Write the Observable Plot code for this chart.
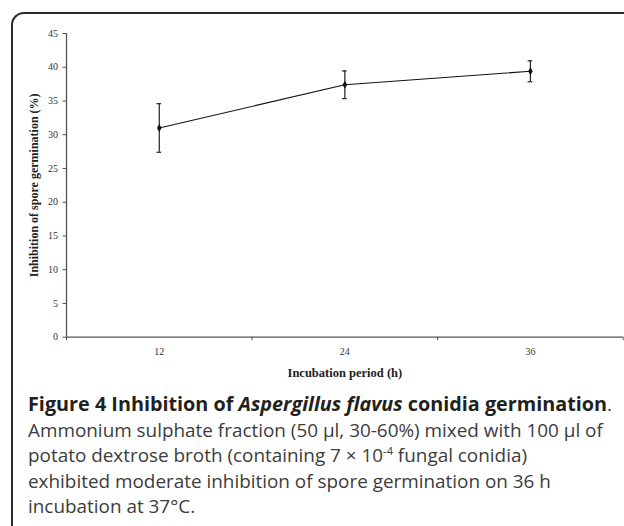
<!DOCTYPE html>
<html>
<head>
<meta charset="utf-8">
<script src="https://cdn.jsdelivr.net/npm/d3@7"></script>
<script src="https://cdn.jsdelivr.net/npm/@observablehq/plot@0.6"></script>
<style>
  html, body { margin: 0; padding: 0; background: #fff; overflow: hidden; }
  #wrap { position: relative; width: 624px; height: 526px; overflow: hidden; }
  #frame { position: absolute; left: 11px; top: 12px; width: 700px; height: 600px;
           border-left: 2px solid #2a2a2a; border-top: 2px solid #2a2a2a; border-top-left-radius: 13px; }
  #chart { position: absolute; left: 0; top: 0; }
  #caption { position: absolute; left: 28px; top: 391px; white-space: nowrap;
             font-family: "Open Sans", sans-serif; font-size: 18.9px; line-height: 25.5px; color: #3c3c3c; }
  #caption b { color: #231f20; font-size: 19.8px; }
  #caption sup { font-size: 11px; vertical-align: 7px; line-height: 0; }
</style>
</head>
<body>
<div id="wrap">
  <div id="frame"></div>
  <div id="chart"></div>
  <div id="caption"><b>Figure 4 Inhibition of <i>Aspergillus flavus</i> conidia germination</b>.<br>Ammonium sulphate fraction (50 µl, 30-60%) mixed with 100 µl of<br>potato dextrose broth (containing 7 × 10<sup>-4</sup> fungal conidia)<br>exhibited moderate inhibition of spore germination on 36 h<br>incubation at 37°C.</div>
</div>
<script>
const hours = [12, 24, 36];
const inhibition = [31.0, 37.4, 39.4];
const errorSD = [3.6, 2.05, 1.55];
const yTicks = [0, 5, 10, 15, 20, 25, 30, 35, 40, 45];
const xLabels = [12, 24, 36];
const xBoundaries = [6, 18, 30, 42];

const data = hours.map((h, i) => ({hour: h, value: inhibition[i], err: errorSD[i]}));

const serif = "'Liberation Serif', 'Times New Roman', serif";

const chart = Plot.plot({
  width: 624,
  height: 390,
  marginLeft: 66,
  marginRight: 1.3,
  marginTop: 33,
  marginBottom: 53.3,
  style: {fontFamily: serif, fontSize: "10px", color: "#333", background: "transparent"},
  x: {domain: [6, 42], label: null},
  y: {domain: [0, 45], label: null},
  marks: [
    Plot.axisY({ticks: yTicks, tickSize: 3.5, tickPadding: 5, stroke: "#555", fill: "#333",
      label: "Inhibition of spore germination (%)", labelAnchor: "center", labelArrow: "none", labelOffset: 37}),
    Plot.axisX({ticks: xBoundaries, tickSize: 3.5, tickFormat: () => "", stroke: "#555", label: null}),
    Plot.axisX({ticks: xLabels, tickSize: 0, tickPadding: 11, fill: "#333",
      label: "Incubation period (h)", labelAnchor: "center", labelArrow: "none", labelOffset: 40}),
    Plot.ruleY([0], {stroke: "#555", strokeWidth: 1.3}),
    Plot.ruleX([6], {stroke: "#555", strokeWidth: 1.3}),
    Plot.ruleX(data, {x: "hour", y1: d => d.value - d.err, y2: d => d.value + d.err, stroke: "#222", strokeWidth: 1.2}),
    Plot.ruleY(data, {y: d => d.value + d.err, x1: d => d.hour - 0.15, x2: d => d.hour + 0.15, stroke: "#222", strokeWidth: 1.2}),
    Plot.ruleY(data, {y: d => d.value - d.err, x1: d => d.hour - 0.15, x2: d => d.hour + 0.15, stroke: "#222", strokeWidth: 1.2}),
    Plot.line(data, {x: "hour", y: "value", stroke: "#111", strokeWidth: 1.1}),
    Plot.dot(data, {x: "hour", y: "value", symbol: "diamond", r: 2.4, fill: "#111", stroke: "none"})
  ]
});

document.getElementById("chart").appendChild(chart);

d3.select(chart).selectAll("[aria-label='y-axis label'] text")
  .style("font-weight", "bold").style("font-size", "12px").style("fill", "#222");
d3.select(chart).selectAll("[aria-label='x-axis label'] text")
  .style("font-weight", "bold").style("font-size", "12.5px").style("fill", "#222");
</script>
</body>
</html>
